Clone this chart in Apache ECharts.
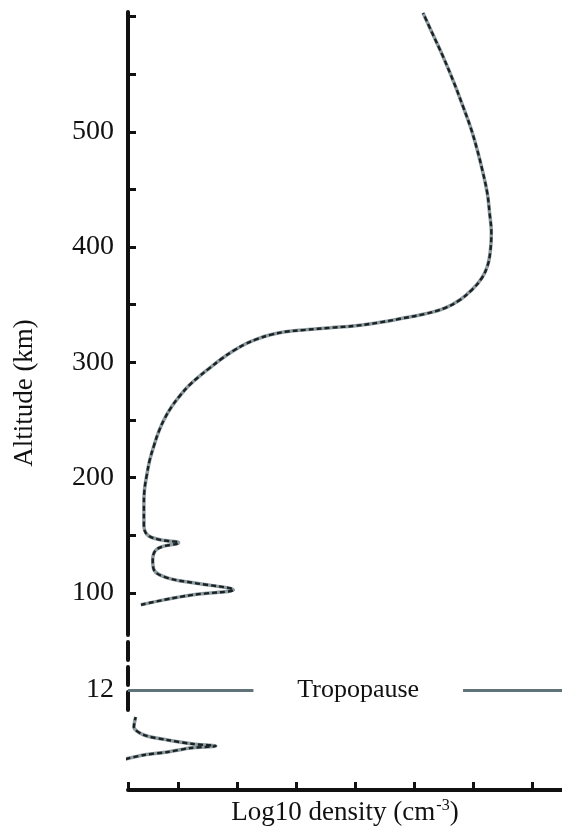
<!DOCTYPE html>
<html><head><meta charset="utf-8">
<script src="https://cdn.jsdelivr.net/npm/echarts@6/dist/echarts.min.js"></script>
<style>html,body{margin:0;padding:0;background:#fff}#c{width:562px;height:829px}</style>
</head><body><div id="c"></div>
<script>
// Upper profile (altitude in km, log10 density in relative axis units)
const upperAltitude = [89.6, 93.9, 98.3, 102.6, 108.7, 113, 120, 128.6, 138.2, 143.4, 146, 150.3, 159, 176.4, 189.4, 202.4, 215.4, 227.6, 239.7, 251.0, 261.4, 270.9, 279.6, 287.4, 295.2, 303.1, 310.0, 316.1, 320.4, 323.9, 326.5, 328.2, 330.0, 331.7, 334.7, 337.8, 342.1, 347.3, 354.3, 362.9, 372.5, 382.9, 395.1, 412.5, 429.7, 447.2, 466.2, 484.5, 503.5, 521.9, 543.4, 565.3, 584.2, 603.2];
const upperDensity = [-0.64, -0.25, 0.25, 0.93, 0.25, -0.19, -0.42, -0.44, -0.36, 0.0, -0.31, -0.53, -0.59, -0.59, -0.58, -0.54, -0.49, -0.42, -0.34, -0.24, -0.12, 0.02, 0.17, 0.34, 0.53, 0.73, 0.93, 1.14, 1.34, 1.56, 1.81, 2.15, 2.58, 3.0, 3.42, 3.76, 4.19, 4.53, 4.78, 4.98, 5.14, 5.24, 5.29, 5.31, 5.28, 5.24, 5.16, 5.07, 4.96, 4.83, 4.67, 4.49, 4.32, 4.15];
// Lower (tropospheric) profile
const lowerAltitude = [3.72, 4.2, 4.56, 5.04, 5.28, 5.52, 6.0, 6.6, 7.56, 8.76];
const lowerDensity = [-0.9, -0.59, -0.19, 0.2, 0.63, 0.25, -0.19, -0.59, -0.76, -0.73];
// Axis ticks / labels
const upperTicks = [100, 150, 200, 250, 300, 350, 400, 450, 500, 550, 600];
const upperLabels = [100, 200, 300, 400, 500];
const tropopauseAltitude = 12;
const tropopauseGap = [1.27, 4.83];
const tropopauseText = 'Tropopause';
const densityMin = -0.86, densityMax = 6.51;
const densityTicks = [-0.86, 0, 1, 2, 3, 4, 5, 6];

const FONT = 'Liberation Serif';
const INK = '#111';
const upperData = upperAltitude.map((a, i) => [upperDensity[i], a]);
const lowerData = lowerAltitude.map((a, i) => [lowerDensity[i], a]);

const chart = echarts.init(document.getElementById('c'), null, {renderer: 'canvas'});
const xBase = {type: 'value', min: densityMin, max: densityMax, splitLine: {show: false}};
const curveGray = {color: '#8d9ca1', width: 3.5};
const curveDash = {color: '#1c2224', width: 2.4, type: [5, 3]};

chart.setOption({
  animation: false,
  backgroundColor: '#fff',
  grid: [
    {left: 128, right: 0, top: 12, height: 620},
    {left: 128, right: 0, top: 632, height: 78},
    {left: 128, right: 0, top: 710, height: 80}
  ],
  xAxis: [
    Object.assign({gridIndex: 0, show: false}, xBase),
    Object.assign({gridIndex: 1, show: false}, xBase),
    Object.assign({gridIndex: 2,
      axisLine: {show: true, onZero: false, lineStyle: {color: INK, width: 4}},
      axisTick: {show: true, inside: true, length: 8, lineStyle: {color: INK, width: 3}, customValues: densityTicks},
      axisLabel: {show: false},
      name: '{a|Log10 density (cm}{s|-3}{a|)}',
      nameLocation: 'middle',
      nameGap: 8,
      nameTextStyle: {
        rich: {
          a: {fontFamily: FONT, fontSize: 27, color: INK, lineHeight: 30},
          s: {fontFamily: FONT, fontSize: 16, color: INK, verticalAlign: 'top', lineHeight: 30, padding: [0, 0, 0, 1]}
        }
      }
    }, xBase)
  ],
  yAxis: [
    {type: 'value', gridIndex: 0, min: 66, max: 604, splitLine: {show: false},
      axisLine: {show: true, onZero: false, lineStyle: {color: INK, width: 4}},
      axisTick: {show: true, inside: true, length: 8, lineStyle: {color: INK, width: 3}, customValues: upperTicks},
      axisLabel: {customValues: upperLabels, fontFamily: FONT, fontSize: 28, color: INK, margin: 14}
    },
    {type: 'value', gridIndex: 1, min: 9.6, max: 18.96, splitLine: {show: false},
      axisLine: {show: true, onZero: false, lineStyle: {color: INK, width: 4, type: [18, 7]}},
      axisTick: {show: false},
      axisLabel: {customValues: [tropopauseAltitude], fontFamily: FONT, fontSize: 28, color: INK, margin: 14}
    },
    {type: 'value', gridIndex: 2, min: 0, max: 9.6, show: false}
  ],
  graphic: [{
    type: 'text', x: 25, y: 393, rotation: Math.PI / 2,
    style: {text: 'Altitude (km)', font: '27px "Liberation Serif"', fill: INK, align: 'center', verticalAlign: 'middle'}
  }],
  series: [
    {type: 'line', xAxisIndex: 0, yAxisIndex: 0, data: upperData, showSymbol: false, smooth: 0.4, lineStyle: curveGray, clip: false},
    {type: 'line', xAxisIndex: 0, yAxisIndex: 0, data: upperData, showSymbol: false, smooth: 0.4, lineStyle: curveDash, clip: false},
    {type: 'line', xAxisIndex: 2, yAxisIndex: 2, data: lowerData, showSymbol: false, smooth: 0.3, lineStyle: curveGray, clip: false},
    {type: 'line', xAxisIndex: 2, yAxisIndex: 2, data: lowerData, showSymbol: false, smooth: 0.3, lineStyle: curveDash, clip: false},
    {type: 'scatter', xAxisIndex: 1, yAxisIndex: 1, symbolSize: 0, silent: true,
      itemStyle: {opacity: 1},
      data: [[(tropopauseGap[0] + tropopauseGap[1]) / 2, tropopauseAltitude]],
      label: {show: true, position: 'inside', formatter: tropopauseText, fontFamily: FONT, fontSize: 26, color: INK, opacity: 1},
      markLine: {silent: true, symbol: 'none', label: {show: false},
        lineStyle: {color: '#5f7379', width: 3, type: 'solid', opacity: 1},
        data: [
          [{coord: [densityMin, tropopauseAltitude]}, {coord: [tropopauseGap[0], tropopauseAltitude]}],
          [{coord: [tropopauseGap[1], tropopauseAltitude]}, {coord: [densityMax, tropopauseAltitude]}]
        ]}
    }
  ]
});
</script></body></html>
